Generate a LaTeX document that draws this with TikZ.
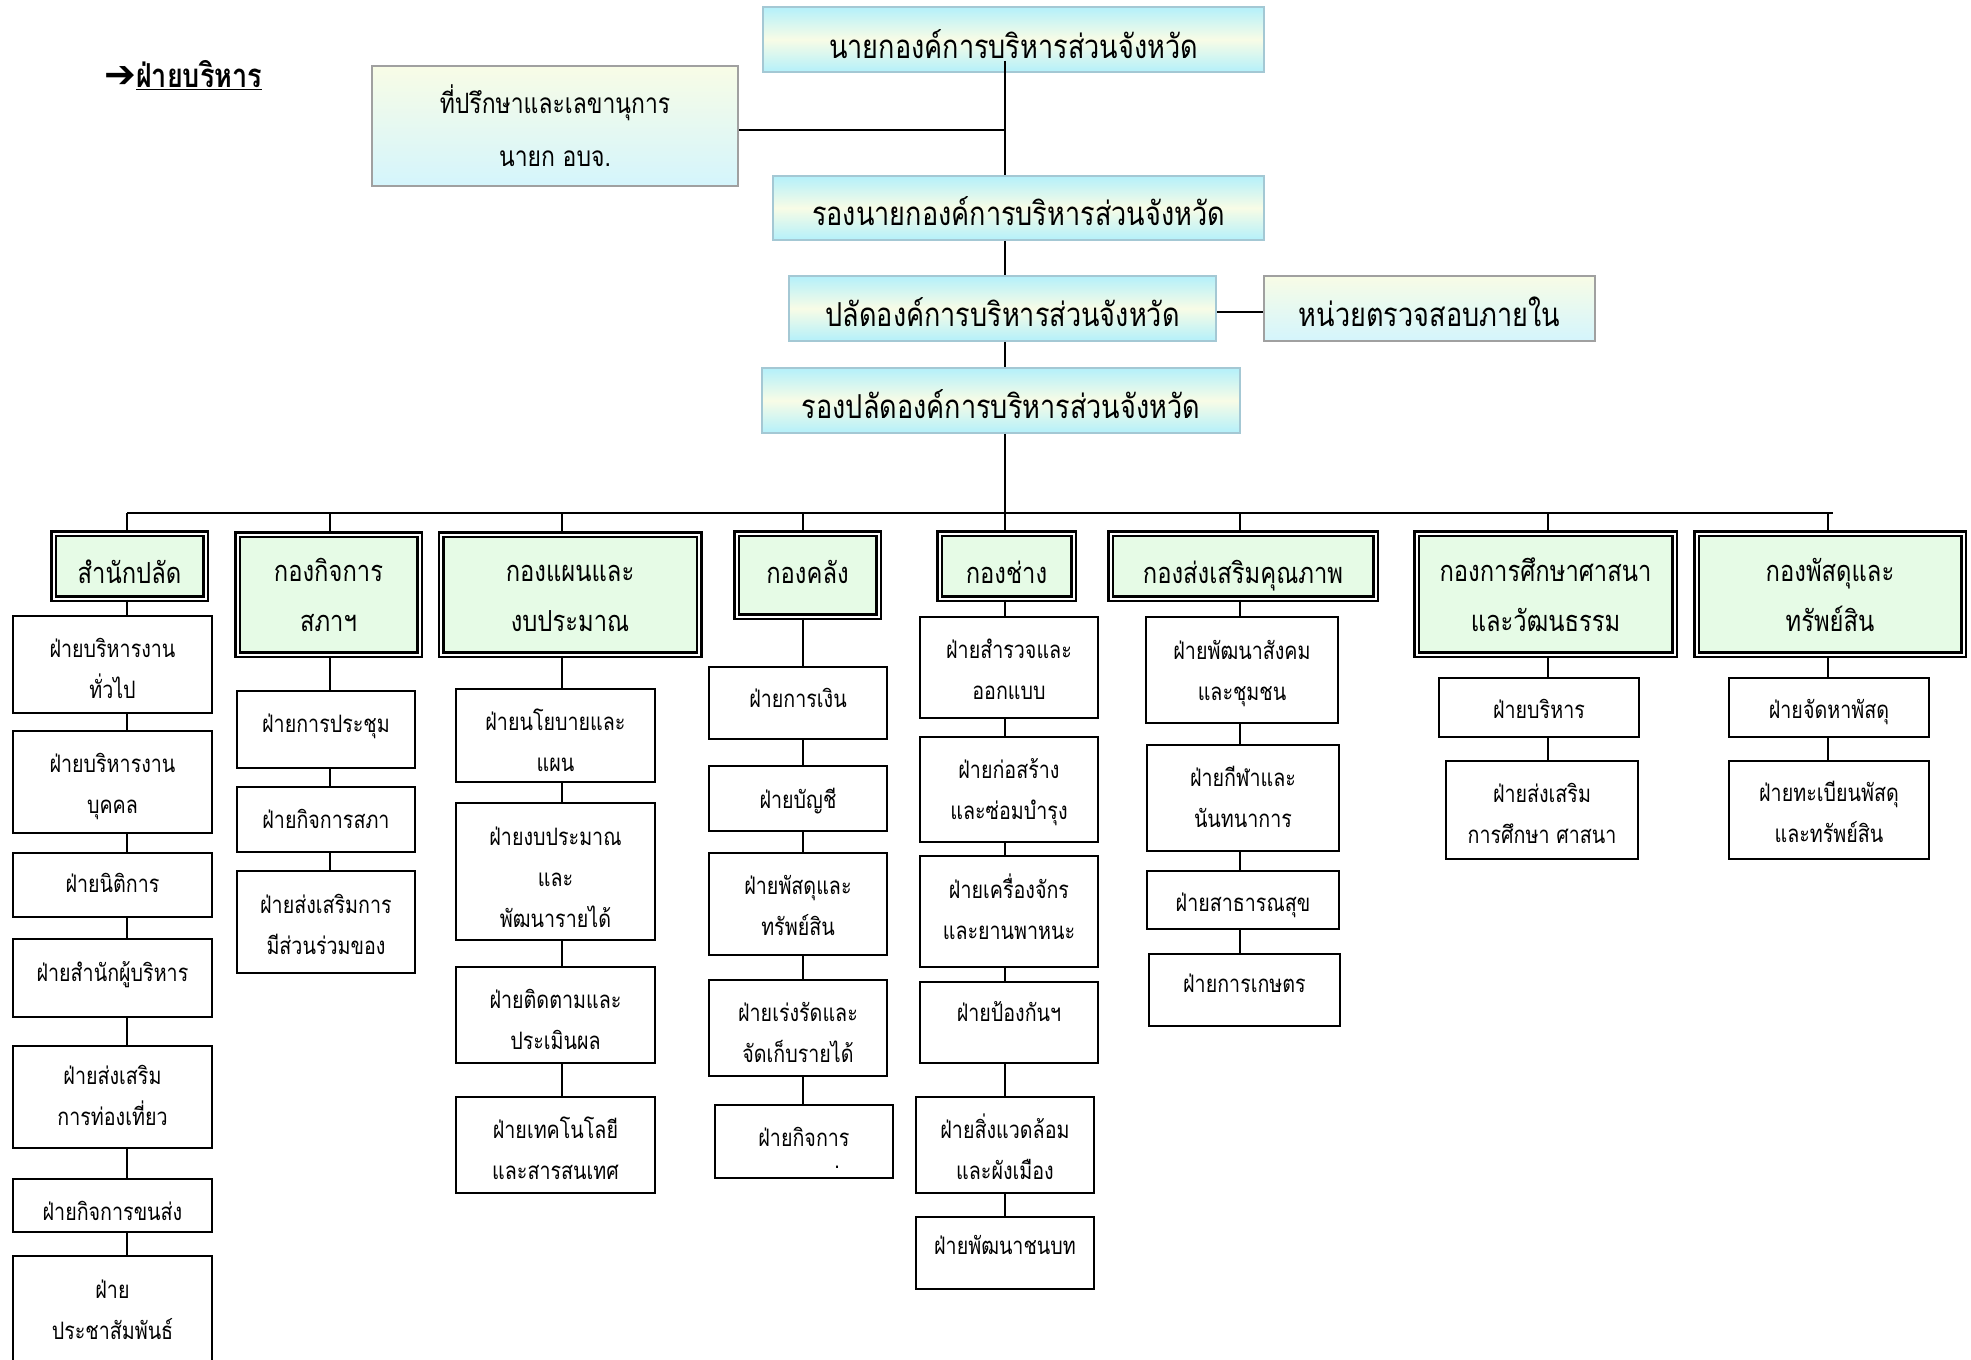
\documentclass[tikz,border=0pt]{standalone}
\usepackage{fontspec}
\newfontfamily\thaifont[Script=Thai, FakeStretch=0.82]{Loma}
\newfontfamily\symfont{DejaVu Sans}
\definecolor{skytop}{HTML}{B4F0FA}
\definecolor{creamy}{HTML}{F8FCE6}
\definecolor{skylow}{HTML}{D4F5FC}
\definecolor{topline}{HTML}{A4C8D4}
\definecolor{boxgray}{HTML}{A0A0A0}
\definecolor{deptgreen}{HTML}{E6FBE6}
\tikzset{
  chief/.style={draw=topline, line width=1.5pt, top color=skytop, bottom color=skytop, middle color=creamy, inner sep=0pt, text depth=0pt, align=center, font=\thaifont\fontsize{33}{50}\selectfont},
  aide/.style={draw=boxgray, line width=2pt, top color=creamy, bottom color=skylow, inner sep=0pt, text depth=0pt, align=center, font=\thaifont\fontsize{28}{53}\selectfont},
  dept/.style={draw=black, double=white, double distance=2pt, line width=2.5pt, fill=deptgreen, inner sep=0pt, text depth=0pt, align=center, font=\thaifont\fontsize{29}{50}\selectfont},
  unit/.style={draw=black, line width=2pt, fill=white, inner sep=0pt, text depth=0pt, align=center, font=\thaifont\fontsize{24}{41}\selectfont},
  link/.style={black, line width=1.5pt}
}
\begin{document}
\begin{tikzpicture}[x=1pt, y=-1pt]
\clip (0,0) rectangle (1971,1360);
\fill[white] (0,0) rectangle (1971,1360);

\node[right, inner sep=0pt] (head) at (104,75) {{\symfont\fontsize{38}{38}\selectfont ➔}{\thaifont\bfseries\fontsize{33}{33}\selectfont\underline{ฝ่ายบริหาร}}};

\node[chief, text height=38pt, minimum width=501pt, minimum height=65pt] (t1) at (1013.5,39.5) {นายกองค์การบริหารส่วนจังหวัด};
\node[aide, minimum width=366pt, minimum height=120pt] (adv) at (555,126) {ที่ปรึกษาและเลขานุการ\\นายก อบจ.};
\node[chief, text height=35pt, minimum width=491pt, minimum height=64pt] (t2) at (1018.5,208) {รองนายกองค์การบริหารส่วนจังหวัด};
\node[chief, text height=35pt, minimum width=427pt, minimum height=65pt] (t3) at (1002.5,308.5) {ปลัดองค์การบริหารส่วนจังหวัด};
\node[aide, text height=35pt, font=\thaifont\fontsize{33}{50}\selectfont, minimum width=331pt, minimum height=65pt] (audit) at (1429.5,308.5) {หน่วยตรวจสอบภายใน};
\node[chief, text height=35pt, minimum width=478pt, minimum height=65pt] (t4) at (1001,400.5) {รองปลัดองค์การบริหารส่วนจังหวัด};

\coordinate (c1) at (127,513);
\coordinate (c2) at (330,513);
\coordinate (c3) at (562,513);
\coordinate (c4) at (803,513);
\coordinate (c5) at (1005,513);
\coordinate (c6) at (1240,513);
\coordinate (c7) at (1548,513);
\coordinate (c8) at (1828,513);
\coordinate (busr) at (1833,513);

\node[dept, text height=34pt, minimum width=152pt, minimum height=65pt] (d1) at (129.5,566) {สำนักปลัด};
\node[dept, text height=74pt, minimum width=182pt, minimum height=120pt] (d2) at (328.5,594.5) {กองกิจการ\\สภาฯ};
\node[dept, text height=74pt, minimum width=258pt, minimum height=120pt] (d3) at (570,594.5) {กองแผนและ\\งบประมาณ};
\node[dept, text height=16pt, minimum width=142pt, minimum height=83pt] (d4) at (807.5,575) {กองคลัง};
\node[dept, text height=34pt, minimum width=134pt, minimum height=65pt] (d5) at (1006.5,566) {กองช่าง};
\node[dept, text height=34pt, minimum width=265pt, minimum height=65pt] (d6) at (1243,566) {กองส่งเสริมคุณภาพ};
\node[dept, text height=75pt, minimum width=258pt, minimum height=121pt] (d7) at (1545.5,594) {กองการศึกษาศาสนา\\และวัฒนธรรม};
\node[dept, text height=75pt, minimum width=267pt, minimum height=121pt] (d8) at (1830,594) {กองพัสดุและ\\ทรัพย์สิน};

\node[unit, text height=68pt, minimum width=199pt, minimum height=97pt] (s11) at (112.5,664.5) {ฝ่ายบริหารงาน\\ทั่วไป};
\node[unit, text height=62pt, minimum width=199pt, minimum height=102pt] (s12) at (112.5,782) {ฝ่ายบริหารงาน\\บุคคล};
\node[unit, text height=14pt, minimum width=199pt, minimum height=64pt] (s13) at (112.5,885) {ฝ่ายนิติการ};
\node[unit, text height=7pt, minimum width=199pt, minimum height=78pt] (s14) at (112.5,978) {ฝ่ายสำนักผู้บริหาร};
\node[unit, text height=56pt, minimum width=199pt, minimum height=102pt] (s15) at (112.5,1097) {ฝ่ายส่งเสริม\\การท่องเที่ยว};
\node[unit, text height=30pt, minimum width=199pt, minimum height=53pt] (s16) at (112.5,1205.5) {ฝ่ายกิจการขนส่ง};
\node[unit, text height=59pt, minimum width=199pt, minimum height=108pt] (s17) at (112.5,1310) {ฝ่าย\\ประชาสัมพันธ์};

\node[unit, text height=6pt, minimum width=177.5pt, minimum height=77pt] (s21) at (326,729.5) {ฝ่ายการประชุม};
\node[unit, text height=17pt, minimum width=177.5pt, minimum height=65pt] (s22) at (326,819.5) {ฝ่ายกิจการสภา};
\node[unit, text height=64pt, minimum width=177.5pt, minimum height=102pt] (s23) at (326,922) {ฝ่ายส่งเสริมการ\\มีส่วนร่วมของ};

\node[unit, text height=72pt, minimum width=199pt, minimum height=93pt] (s31) at (555.5,735.5) {ฝ่ายนโยบายและ\\แผน};
\node[unit, text height=112pt, minimum width=199pt, minimum height=137pt] (s32) at (555.5,871.5) {ฝ่ายงบประมาณ\\และ\\พัฒนารายได้};
\node[unit, text height=69pt, minimum width=199pt, minimum height=96pt] (s33) at (555.5,1015) {ฝ่ายติดตามและ\\ประเมินผล};
\node[unit, text height=68pt, minimum width=199pt, minimum height=96pt] (s34) at (555.5,1145) {ฝ่ายเทคโนโลยี\\และสารสนเทศ};

\node[unit, text height=9pt, minimum width=178pt, minimum height=72pt] (s41) at (798,703) {ฝ่ายการเงิน};
\node[unit, text height=19pt, minimum width=178pt, minimum height=65pt] (s42) at (798,798.5) {ฝ่ายบัญชี};
\node[unit, text height=62pt, minimum width=178pt, minimum height=102pt] (s43) at (798,904) {ฝ่ายพัสดุและ\\ทรัพย์สิน};
\node[unit, text height=68pt, minimum width=178pt, minimum height=96pt] (s44) at (798,1028) {ฝ่ายเร่งรัดและ\\จัดเก็บรายได้};
\node[unit, text height=53pt, minimum width=178pt, minimum height=73pt] (s45) at (804,1141.5) {ฝ่ายกิจการ\\[-19pt]\hspace*{66pt}.};

\node[unit, text height=63pt, minimum width=178pt, minimum height=101pt] (s51) at (1009,667.5) {ฝ่ายสำรวจและ\\ออกแบบ};
\node[unit, text height=60pt, minimum width=178pt, minimum height=105pt] (s52) at (1009,789.5) {ฝ่ายก่อสร้าง\\และซ่อมบำรุง};
\node[unit, text height=56pt, minimum width=178pt, minimum height=111pt] (s53) at (1009,911.5) {ฝ่ายเครื่องจักร\\และยานพาหนะ};
\node[unit, text height=0pt, text depth=2pt, minimum width=178pt, minimum height=81pt] (s54) at (1009,1022.5) {ฝ่ายป้องกันฯ};
\node[unit, text height=69pt, minimum width=178pt, minimum height=96pt] (s55) at (1005,1145) {ฝ่ายสิ่งแวดล้อม\\และผังเมือง};
\node[unit, text height=2pt, minimum width=178pt, minimum height=72pt] (s56) at (1005,1253) {ฝ่ายพัฒนาชนบท};

\node[unit, text height=60pt, minimum width=192pt, minimum height=106pt] (s61) at (1242,670) {ฝ่ายพัฒนาสังคม\\และชุมชน};
\node[unit, text height=58pt, minimum width=192pt, minimum height=106pt] (s62) at (1243,798) {ฝ่ายกีฬาและ\\นันทนาการ};
\node[unit, text height=22pt, minimum width=192pt, minimum height=58pt] (s63) at (1243,900) {ฝ่ายสาธารณสุข};
\node[unit, text height=5pt, minimum width=191pt, minimum height=72pt] (s64) at (1244.5,990) {ฝ่ายการเกษตร};

\node[unit, text height=22pt, minimum width=200pt, minimum height=59pt] (s71) at (1539,707.5) {ฝ่ายบริหาร};
\node[unit, text height=66pt, minimum width=192pt, minimum height=98pt] (s72) at (1542,810) {ฝ่ายส่งเสริม\\การศึกษา ศาสนา};

\node[unit, text height=22pt, minimum width=200pt, minimum height=59pt] (s81) at (1829,707.5) {ฝ่ายจัดหาพัสดุ};
\node[unit, text height=65pt, minimum width=200pt, minimum height=98pt] (s82) at (1829,810) {ฝ่ายทะเบียนพัสดุ\\และทรัพย์สิน};

\draw[link] ([yshift=12pt]c5 |- t1.south) -- (c5 |- t2.north) (c5 |- t2.south) -- (c5 |- t3.north) (c5 |- t3.south) -- (c5 |- t4.north) (c5 |- t4.south) -- (c5);
\draw[link, line width=2pt] ([yshift=-4pt]adv.east) -- ([yshift=-4pt]adv.east -| c5);
\draw[link, line width=2.5pt] ([yshift=-3.5pt]t3.east) -- ([yshift=-3.5pt]audit.west);
\draw[link] (c1) -- (busr);

\draw[link] (c1) -- (c1 |- d1.north) (c1 |- d1.south) -- (c1 |- s11.north) (c1 |- s11.south) -- (c1 |- s12.north) (c1 |- s12.south) -- (c1 |- s13.north) (c1 |- s13.south) -- (c1 |- s14.north) (c1 |- s14.south) -- (c1 |- s15.north) (c1 |- s15.south) -- (c1 |- s16.north) (c1 |- s16.south) -- (c1 |- s17.north);
\draw[link] (c2) -- (c2 |- d2.north) (c2 |- d2.south) -- (c2 |- s21.north) (c2 |- s21.south) -- (c2 |- s22.north) (c2 |- s22.south) -- (c2 |- s23.north);
\draw[link] (c3) -- (c3 |- d3.north) (c3 |- d3.south) -- (c3 |- s31.north) (c3 |- s31.south) -- (c3 |- s32.north) (c3 |- s32.south) -- (c3 |- s33.north) (c3 |- s33.south) -- (c3 |- s34.north);
\draw[link] (c4) -- (c4 |- d4.north) (c4 |- d4.south) -- (c4 |- s41.north) (c4 |- s41.south) -- (c4 |- s42.north) (c4 |- s42.south) -- (c4 |- s43.north) (c4 |- s43.south) -- (c4 |- s44.north) (c4 |- s44.south) -- (c4 |- s45.north);
\draw[link] (c5) -- (c5 |- d5.north) (c5 |- d5.south) -- (c5 |- s51.north) (c5 |- s51.south) -- (c5 |- s52.north) (c5 |- s52.south) -- (c5 |- s53.north) (c5 |- s53.south) -- (c5 |- s54.north) (c5 |- s54.south) -- (c5 |- s55.north) (c5 |- s55.south) -- (c5 |- s56.north);
\draw[link] (c6) -- (c6 |- d6.north) (c6 |- d6.south) -- (c6 |- s61.north) (c6 |- s61.south) -- (c6 |- s62.north) (c6 |- s62.south) -- (c6 |- s63.north) (c6 |- s63.south) -- (c6 |- s64.north);
\draw[link] (c7) -- (c7 |- d7.north) (c7 |- d7.south) -- (c7 |- s71.north) (c7 |- s71.south) -- (c7 |- s72.north);
\draw[link] (c8) -- (c8 |- d8.north) (c8 |- d8.south) -- (c8 |- s81.north) (c8 |- s81.south) -- (c8 |- s82.north);
\end{tikzpicture}
\end{document}
